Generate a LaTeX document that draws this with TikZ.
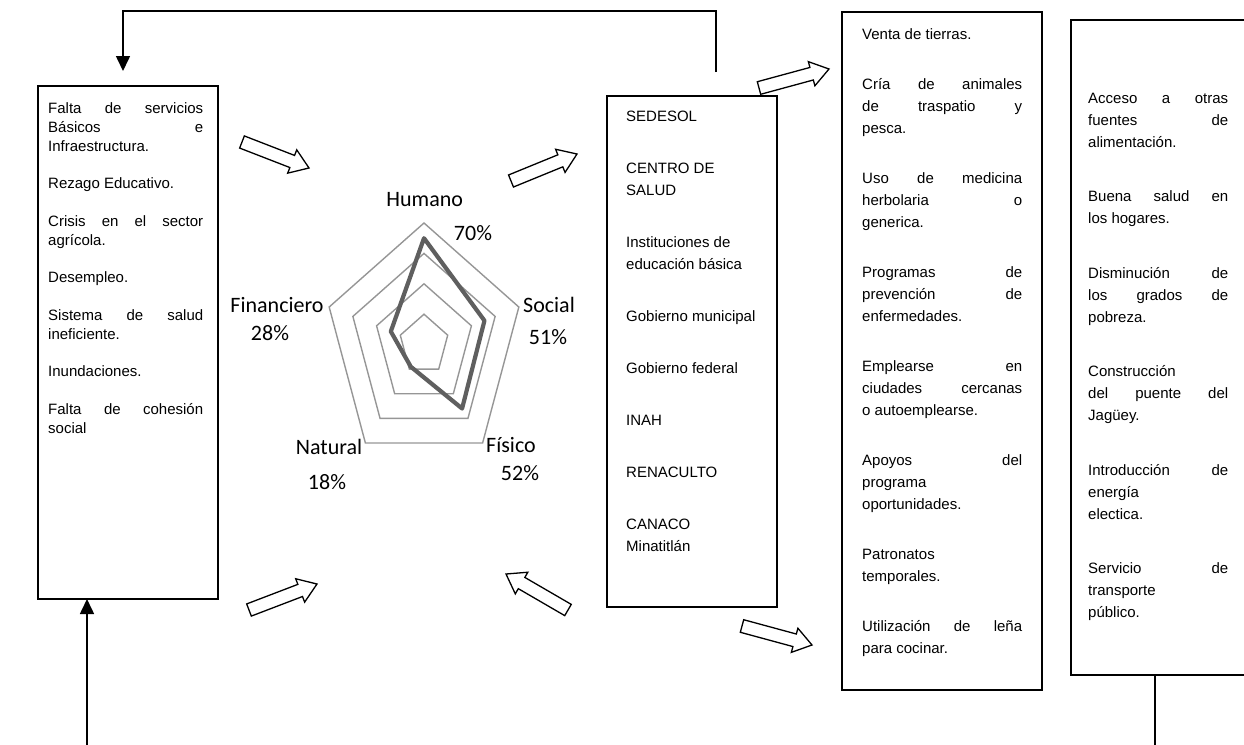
\documentclass[tikz,border=0pt]{standalone}
\usepackage{fontspec}
\setmainfont{Liberation Sans}
\newfontfamily\calfont{Carlito}
\usetikzlibrary{arrows.meta,calc}
\definecolor{gridgray}{RGB}{150,150,150}
\definecolor{datagray}{RGB}{95,95,95}
\tikzset{
  box/.style={draw=black, line width=1.5pt, rectangle, inner sep=0pt, outer sep=0pt, anchor=north west},
  conn/.style={draw=black, line width=1.6pt},
  tip/.style={-{Triangle[width=14pt,length=15pt]}},
  blockarrow/.style={draw=black, line width=1.3pt, fill=white, line join=miter},
  gridline/.style={draw=gridgray, line width=1.4pt},
  dataline/.style={draw=datagray, line width=4.2pt, line join=round},
  lbl/.style={font=\calfont\fontsize{22}{26}\selectfont, inner sep=0pt},
  txt/.style={anchor=base west, inner sep=0pt},
}
\newcommand\boxtext[4]{%
  \parbox[t]{#1pt}{\fontsize{15}{#2}\selectfont\setlength\parskip{#3pt}\setlength\parindent{0pt}\tolerance=10000 \hbadness=10000 \hyphenpenalty=10000 #4}}
\newcommand\hollowarrow[4]{%
  \pgfmathsetmacro\hadx{#3-#1}%
  \pgfmathsetmacro\hady{#2-#4}%
  \pgfmathsetmacro\hang{atan2(\hady,\hadx)}%
  \pgfmathsetmacro\hlen{veclen(\hadx,\hady)}%
  \pgfmathsetmacro\hb{\hlen-18}%
  \begin{scope}[shift={(#1,#2)},rotate=\hang]
    \draw[blockarrow] (0,-6.5) -- (\hb,-6.5) -- (\hb,-12.5) -- (\hlen,0) -- (\hb,12.5) -- (\hb,6.5) -- (0,6.5) -- cycle;
  \end{scope}}
\begin{document}
\begin{tikzpicture}[x=1pt,y=-1pt]
\useasboundingbox (0,0) rectangle (1244,744);
\clip (0,0) rectangle (1244,744);

% boxes
\node[box, minimum width=180, minimum height=513] (leftbox) at (38,86) {};
\node[box, minimum width=170, minimum height=511] (midbox) at (607,96) {};
\node[box, minimum width=200, minimum height=678] (box3) at (842,12) {};
\node[box, minimum width=200, minimum height=655] (box4) at (1071,20) {};

% texts
\node[txt] (lefttext) at (48,113) {\boxtext{155}{19}{18.5}{%
Falta de servicios\linebreak Básicos e\linebreak Infraestructura.\par
Rezago Educativo.\par
Crisis en el sector\linebreak agrícola.\par
Desempleo.\par
Sistema de salud\linebreak ineficiente.\par
Inundaciones.\par
Falta de cohesión\linebreak social}};

\node[txt] (midtext) at (626,121) {\boxtext{150}{22}{30}{\raggedright
SEDESOL\par
CENTRO DE\\SALUD\par
Instituciones de\\educación básica\par
Gobierno municipal\par
Gobierno federal\par
INAH\par
RENACULTO\par
CANACO\\Minatitlán}};

\node[txt] (text3) at (862,39) {\boxtext{160}{22}{28}{%
Venta de tierras.\par
Cría de animales\linebreak de traspatio y\linebreak pesca.\par
Uso de medicina\linebreak herbolaria o\linebreak generica.\par
Programas de\linebreak prevención de\linebreak enfermedades.\par
Emplearse en\linebreak ciudades cercanas\linebreak o autoemplearse.\par
Apoyos del\linebreak programa\linebreak oportunidades.\par
Patronatos\linebreak temporales.\par
Utilización de leña\linebreak para cocinar.}};

\node[txt] (text4) at (1088,103) {\boxtext{140}{22}{32.5}{%
Acceso a otras\linebreak fuentes de\linebreak alimentación.\par
Buena salud en\linebreak los hogares.\par
Disminución de\linebreak los grados de\linebreak pobreza.\par
Construcción\linebreak del puente del\linebreak Jagüey.\par
Introducción de\linebreak energía\linebreak electica.\par
Servicio de\linebreak transporte\linebreak público.}};

% connectors
\coordinate (tstart) at (716,72);
\coordinate (ttop) at (716,11);
\coordinate (tend) at (123,71);
\draw[conn,tip] (tstart) -- (ttop) -| (tend);
\coordinate (bstart) at (87,746);
\draw[conn,tip] (bstart) -- (bstart |- leftbox.south);
\coordinate (b4end) at (1155,746);
\draw[conn] (b4end |- box4.south) -- (b4end);

% radar chart
\foreach \i in {1,...,4}{%
  \foreach \k in {0,...,4}{%
    \coordinate (g\i-\k) at ({424+0.82*30.4*\i*sin(72*\k)},{344.6-30.4*\i*cos(72*\k)});
  }
  \draw[gridline] (g\i-0) -- (g\i-1) -- (g\i-2) -- (g\i-3) -- (g\i-4) -- cycle;
}
\foreach \v [count=\k from 0] in {70,51,52,18,28}{%
  \coordinate (d\k) at ({424+0.82*1.52*\v*sin(72*\k)},{344.6-1.52*\v*cos(72*\k)});
}
\draw[dataline] (d0) -- (d1) -- (d2) -- (d3) -- (d4) -- cycle;

\node[lbl] (lhum) at (424.7,200) {Humano};
\node[lbl] (phum) at (473,233) {70\%};
\node[lbl] (lsoc) at (549,305) {Social};
\node[lbl] (psoc) at (548,337) {51\%};
\node[lbl] (lfis) at (511,445) {Físico};
\node[lbl] (pfis) at (520,473) {52\%};
\node[lbl] (lnat) at (329,447) {Natural};
\node[lbl] (pnat) at (327,482) {18\%};
\node[lbl] (lfin) at (277,305) {Financiero};
\node[lbl] (pfin) at (270,333) {28\%};

% hollow block arrows
\hollowarrow{242}{142}{309}{168}
\hollowarrow{511}{181}{577}{154}
\hollowarrow{249}{610}{317}{584}
\hollowarrow{568}{610}{506}{574}
\hollowarrow{759}{88}{829}{69}
\hollowarrow{742}{626}{812}{645}
\end{tikzpicture}
\end{document}
